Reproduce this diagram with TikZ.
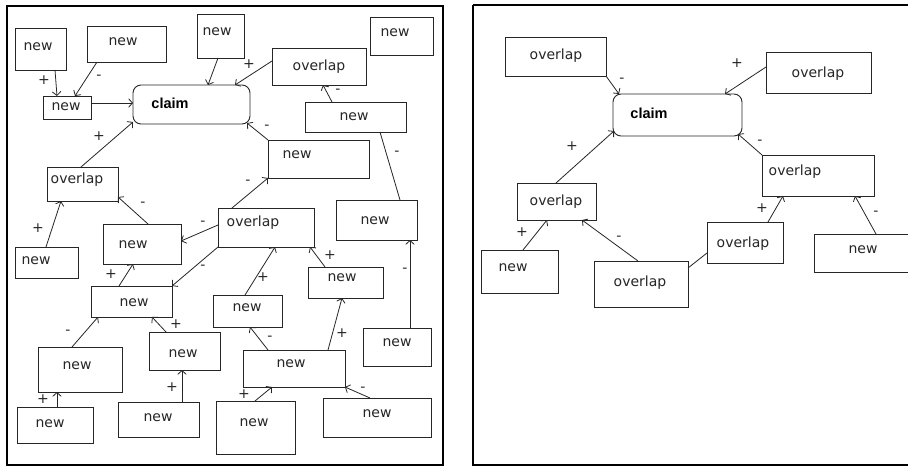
\documentclass[tikz,border=0pt]{standalone}
\usepackage{fontspec}
\setmainfont{DejaVu Sans}
\newfontfamily\claimfont{Liberation Sans}
\usetikzlibrary{calc,arrows.meta}

\tikzset{
  boxst/.style={draw=black!85, line width=0.9pt, inner sep=0pt, outer sep=0pt,
    anchor=north west, rectangle},
  claimst/.style={boxst, rounded corners=8pt},
  txt/.style={inner sep=0pt, text height=7.6pt, text depth=0pt,
    font=\fontsize{14}{16}\selectfont, text=black!85},
  claimtxt/.style={txt, font=\fontsize{14.5}{16}\selectfont\claimfont\bfseries, text=black},
  lab/.style={inner sep=0pt, font=\fontsize{14}{16}\selectfont, text=black!85},
  arr/.style={draw=black!85, line width=0.8pt, -{Straight Barb[length=3.8pt,width=8.5pt]}},
  plain/.style={draw=black!85, line width=0.8pt},
  frame/.style={draw=black, line width=2.2pt}
}

% box: name, x, y (top left), width, height, text x, text y, text
\newcommand\mkbox[8]{%
  \node[boxst, minimum width=#4pt, minimum height=#5pt] (#1) at (#2,#3) {};
  \node[txt] (#1t) at (#6,#7) {#8};}
% connector between offsets measured from the top-left corners of two boxes
\newcommand\link[7]{%
  \draw[#1] ($(#2.north west)+(#3,#4)$) -- ($(#5.north west)+(#6,#7)$);}

\begin{document}
\begin{tikzpicture}[x=1pt, y=-1pt]
\useasboundingbox (0,0) rectangle (908,466);
\fill[white] (0,0) rectangle (908,466);

% ---------------- left map ----------------
\draw[frame] (7,6) rectangle (443,465);

\node[claimst, minimum width=117pt, minimum height=39pt] (CL) at (133,85) {};
\node[claimtxt] (CLt) at (170,105) {claim};

\mkbox{A1}{15}{28}{51}{42}{38}{47}{new}
\mkbox{A2}{87}{26}{79}{36}{123}{42}{new}
\mkbox{A3}{43}{96}{48}{23}{66}{107}{new}
\mkbox{A4}{197}{14}{47}{44}{217}{32}{new}
\mkbox{O1}{272}{48}{94}{37}{319}{67}{overlap}
\mkbox{A5}{370}{17}{63}{38}{395}{33}{new}
\mkbox{A6}{305}{102}{101}{30}{354}{117}{new}
\mkbox{A7}{268}{140}{101}{38}{297}{155}{new}
\mkbox{B1}{47}{167}{71}{34}{77}{180}{overlap}
\mkbox{A15}{103}{224}{78}{40}{133}{245}{new}
\mkbox{O2}{218}{208}{96}{39}{253}{223}{overlap}
\mkbox{A8}{336}{200}{81}{40}{375}{221}{new}
\mkbox{B2}{15}{247}{63}{31}{36}{261}{new}
\mkbox{A16}{91}{286}{81}{31}{134}{303}{new}
\mkbox{A10}{308}{267}{75}{31}{342}{278}{new}
\mkbox{A14}{213}{295}{69}{32}{247}{308}{new}
\mkbox{A9}{363}{328}{68}{38}{397}{343}{new}
\mkbox{C3}{149}{332}{71}{38}{183}{354}{new}
\mkbox{C1}{38}{347}{84}{45}{77}{366}{new}
\mkbox{A11}{243}{350}{102}{37}{291}{364}{new}
\mkbox{A12}{323}{398}{108}{39}{377}{414}{new}
\mkbox{A13}{216}{401}{79}{53}{254}{423}{new}
\mkbox{C4}{118}{402}{81}{35}{158}{418}{new}
\mkbox{C2}{17}{407}{76}{36}{50}{424}{new}

\link{arr}{A1}{40}{42}{A3}{14}{0}
\link{arr}{A2}{10}{36}{A3}{32}{0}
\link{arr}{A3}{48}{7}{CL}{0}{18}
\link{arr}{A4}{21}{44}{CL}{75}{0}
\link{arr}{O1}{0}{13}{CL}{102}{0}
\link{arr}{B1}{34}{0}{CL}{0}{37}
\link{arr}{A6}{27}{0}{O1}{51}{37}
\link{arr}{A7}{0}{0}{CL}{114}{38}
\link{plain}{A8}{64}{0}{A6}{75}{30}
\link{arr}{O2}{14}{0}{A7}{0}{38}
\link{arr}{A9}{47}{0}{A8}{74}{40}
\link{arr}{A10}{17}{0}{O2}{92}{39}
\link{arr}{A11}{85}{0}{A10}{34}{31}
\link{arr}{A12}{47}{0}{A11}{102}{37}
\link{arr}{A13}{39}{0}{A11}{29}{37}
\link{arr}{A11}{25}{0}{A14}{37}{32}
\link{arr}{A14}{32}{0}{O2}{57}{39}
\link{arr}{O2}{0}{17}{A15}{78}{17}
\link{arr}{A15}{45}{0}{B1}{71}{30}
\link{arr}{O2}{0}{39}{A16}{81}{0}
\link{arr}{A16}{28}{0}{A15}{30}{40}
\link{arr}{B2}{31}{0}{B1}{14}{34}
\link{arr}{C1}{34}{0}{A16}{7}{31}
\link{arr}{C2}{40}{0}{C1}{19}{45}
\link{arr}{C3}{17}{0}{A16}{61}{31}
\link{arr}{C4}{64}{0}{C3}{33}{38}

\node[lab] (l1) at (44,80) {+};
\node[lab] (l2) at (99,77) {-};
\node[lab] (l5) at (249,64) {+};
\node[lab] (l6) at (99,136) {+};
\node[lab] (l7) at (338,91) {-};
\node[lab] (l8) at (267,127) {-};
\node[lab] (l9) at (397,153) {-};
\node[lab] (l10) at (248,182) {-};
\node[lab] (l11) at (405,270) {-};
\node[lab] (l12) at (330,255) {+};
\node[lab] (l13) at (342,333) {+};
\node[lab] (l14) at (363,389) {-};
\node[lab] (l15) at (244,394) {+};
\node[lab] (l16) at (270,338) {-};
\node[lab] (l17) at (263,277) {+};
\node[lab] (l18) at (203,223) {-};
\node[lab] (l19) at (143,204) {-};
\node[lab] (l20) at (203,267) {-};
\node[lab] (l21) at (111,274) {+};
\node[lab] (l22) at (38,228) {+};
\node[lab] (l23) at (68,332) {-};
\node[lab] (l24) at (43,399) {+};
\node[lab] (l25) at (176,324) {+};
\node[lab] (l26) at (172,387) {+};

% ---------------- right map ----------------
\draw[frame] (473,5) -- (473,465) -- (912,465) (473,5) -- (912,5);

\node[claimst, minimum width=129pt, minimum height=42pt] (RC) at (613,94) {};
\node[claimtxt] (RCt) at (649,115) {claim};

\mkbox{R1}{505}{37}{101}{39}{556}{56}{overlap}
\mkbox{R2}{766}{52}{105}{41}{818}{74}{overlap}
\mkbox{R3}{762}{155}{112}{41}{795}{172}{overlap}
\mkbox{R4}{517}{183}{79}{37}{556}{202}{overlap}
\mkbox{R5}{707}{222}{76}{41}{743}{244}{overlap}
\mkbox{R6}{814}{234}{98}{38}{863}{250}{new}
\mkbox{R7}{481}{250}{77}{43}{513}{268}{new}
\mkbox{R8}{594}{261}{94}{46}{640}{283}{overlap}

\link{arr}{R1}{101}{39}{RC}{6}{0}
\link{arr}{R2}{0}{15}{RC}{112}{0}
\link{arr}{R3}{0}{0}{RC}{125}{40}
\link{arr}{R4}{39}{0}{RC}{1}{37}
\link{arr}{R5}{61}{0}{R3}{21}{41}
\link{arr}{R6}{62}{0}{R3}{93}{41}
\link{arr}{R7}{42}{0}{R4}{30}{37}
\link{arr}{R8}{44}{0}{R4}{65}{37}
\link{plain}{R8}{94}{7}{R5}{0}{31}

\node[lab] (r1) at (622,80) {-};
\node[lab] (r2) at (737,63) {+};
\node[lab] (r3) at (760,142) {-};
\node[lab] (r4) at (572,146) {+};
\node[lab] (r5) at (762,208) {+};
\node[lab] (r6) at (876,213) {-};
\node[lab] (r7) at (522,232) {+};
\node[lab] (r8) at (619,238) {-};
\end{tikzpicture}
\end{document}
